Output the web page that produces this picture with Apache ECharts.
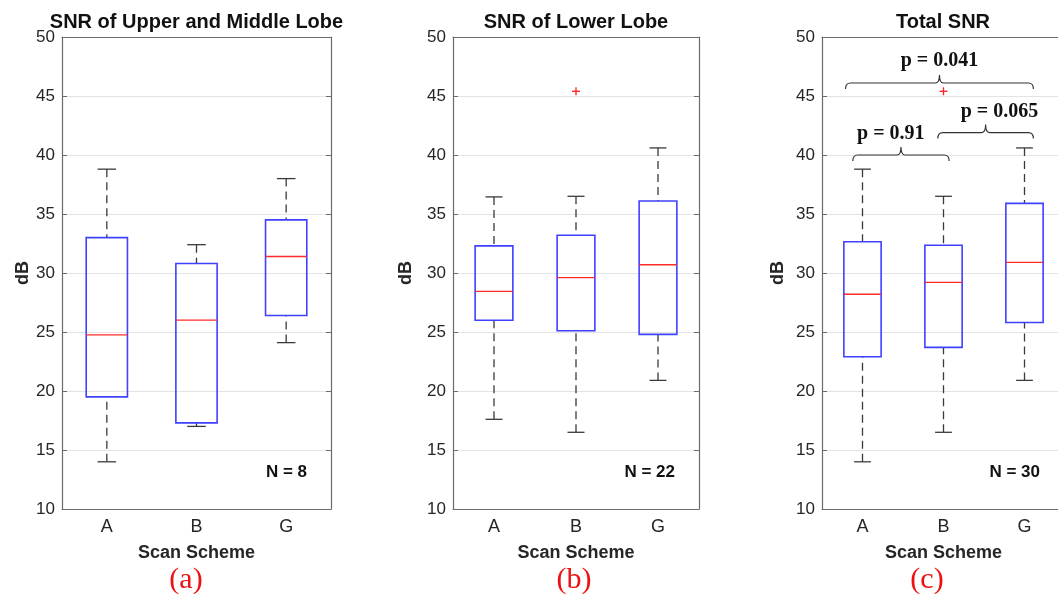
<!DOCTYPE html>
<html>
<head>
<meta charset="utf-8">
<script src="https://cdn.jsdelivr.net/npm/echarts@6/dist/echarts.min.js"></script>
<style>
html, body { margin: 0; background: #fff; }
#main { width: 1058px; height: 598px; }
</style>
</head>
<body>
<div id="main"></div>
<script>
// categories and box statistics: [min, Q1, median, Q3, max]
var categories = ['A', 'B', 'G'];
var yTicks = [10, 15, 20, 25, 30, 35, 40, 45, 50];
var upperMiddle = [[14.0, 19.5, 24.75, 33.0, 38.8], [17.0, 17.3, 26.0, 30.8, 32.4], [24.1, 26.4, 31.4, 34.5, 38.0]];
var lowerLobe = [[17.6, 26.0, 28.45, 32.3, 36.45], [16.5, 25.1, 29.6, 33.2, 36.5], [20.9, 24.8, 30.7, 36.1, 40.6]];
var totalSnr = [[14.0, 22.9, 28.2, 32.65, 38.8], [16.5, 23.7, 29.2, 32.35, 36.5], [20.9, 25.8, 30.9, 35.9, 40.6]];
var lowerOutliers = [[1, 45.4]];
var totalOutliers = [[1, 45.4]];
var panelTitles = ['SNR of Upper and Middle Lobe', 'SNR of Lower Lobe', 'Total SNR'];
var panelN = ['N = 8', 'N = 22', 'N = 30'];
var panelTags = ['(a)', '(b)', '(c)'];

// p-value brackets in panel c (x in category units, y in dB)
var pLabels = ['p = 0.041', 'p = 0.065', 'p = 0.91'];
var bracketFrom = [-0.21, 0.93, -0.12];
var bracketTo = [2.11, 2.11, 1.07];
var bracketLevel = [46.1, 41.9, 40.0];
var pLabelX = [0.95, 1.69, 0.35];
var pLabelY = [48.0, 43.65, 41.8];

var chart = echarts.init(document.getElementById('main'));

var axisColor = '#6b6b6b';
var grids = [
    {left: 62, width: 269, top: 37, height: 472, outerBoundsMode: 'none'},
    {left: 453, width: 246, top: 37, height: 472, outerBoundsMode: 'none'},
    {left: 822, width: 243, top: 37, height: 472, outerBoundsMode: 'none'}
];

function renderBox(params, api) {
    var x = api.value(0);
    var band = api.size([1, 0])[0];
    var w = band * 0.46, cap = w * 0.45;
    var pMin = api.coord([x, api.value(1)]);
    var pQ1 = api.coord([x, api.value(2)]);
    var pMed = api.coord([x, api.value(3)]);
    var pQ3 = api.coord([x, api.value(4)]);
    var pMax = api.coord([x, api.value(5)]);
    var cx = pMed[0];
    var dash = {stroke: '#3a3a3a', lineWidth: 1.3, lineDash: [8, 5]};
    var solid = {stroke: '#3a3a3a', lineWidth: 1.3};
    return {
        type: 'group',
        children: [
            {type: 'line', shape: {x1: cx, y1: pMax[1], x2: cx, y2: pQ3[1]}, style: dash},
            {type: 'line', shape: {x1: cx, y1: pMin[1], x2: cx, y2: pQ1[1]}, style: dash},
            {type: 'line', shape: {x1: cx - cap / 2, y1: pMax[1], x2: cx + cap / 2, y2: pMax[1]}, style: solid},
            {type: 'line', shape: {x1: cx - cap / 2, y1: pMin[1], x2: cx + cap / 2, y2: pMin[1]}, style: solid},
            {type: 'rect', shape: {x: cx - w / 2, y: pQ3[1], width: w, height: pQ1[1] - pQ3[1]},
                style: {fill: 'none', stroke: '#4040ff', lineWidth: 1.6}},
            {type: 'line', shape: {x1: cx - w / 2, y1: pMed[1], x2: cx + w / 2, y2: pMed[1]},
                style: {stroke: '#ff2b2b', lineWidth: 1.3}}
        ]
    };
}

function renderOutlier(params, api) {
    var p = api.coord([api.value(0), api.value(1)]);
    var s = 4;
    var st = {stroke: '#ff2020', lineWidth: 1.3};
    return {
        type: 'group',
        children: [
            {type: 'line', shape: {x1: p[0] - s, y1: p[1], x2: p[0] + s, y2: p[1]}, style: st},
            {type: 'line', shape: {x1: p[0], y1: p[1] - s, x2: p[0], y2: p[1] + s}, style: st}
        ]
    };
}

function renderBracket(params, api) {
    var i = params.dataIndex;
    var base = api.coord([0, bracketLevel[i]]);
    var band = api.size([1, 0])[0];
    var x1 = base[0] + bracketFrom[i] * band;
    var x2 = base[0] + bracketTo[i] * band;
    var xm = (x1 + x2) / 2, y = base[1];
    var lab = api.coord([0, pLabelY[i]]);
    var d = 'M' + x1 + ',' + (y + 6) + ' Q' + x1 + ',' + y + ' ' + (x1 + 5) + ',' + y +
        ' L' + (xm - 4) + ',' + y + ' Q' + xm + ',' + y + ' ' + xm + ',' + (y - 8) +
        ' Q' + xm + ',' + y + ' ' + (xm + 4) + ',' + y +
        ' L' + (x2 - 5) + ',' + y + ' Q' + x2 + ',' + y + ' ' + x2 + ',' + (y + 6);
    return {
        type: 'group',
        children: [
            {type: 'path', shape: {pathData: d}, style: {fill: 'none', stroke: '#333', lineWidth: 1.2}},
            {type: 'text', x: base[0] + pLabelX[i] * band, y: lab[1],
                style: {text: pLabels[i], font: 'bold 20px "Liberation Serif"', fill: '#111',
                    align: 'center', verticalAlign: 'middle'}}
        ]
    };
}

function toItems(stats) {
    return stats.map(function (v, i) { return [i].concat(v); });
}

var nameGaps = [30, 38, 35];
var xAxes = [], yAxes = [];
grids.forEach(function (g, k) {
    xAxes.push({
        type: 'category', gridIndex: k, data: categories, position: 'bottom',
        name: 'Scan Scheme', nameLocation: 'middle', nameGap: 35,
        nameTextStyle: {fontFamily: 'Liberation Sans', fontWeight: 'bold', fontSize: 18, color: '#262626'},
        axisLine: {lineStyle: {color: axisColor, width: 1.2}},
        axisTick: {inside: true, alignWithLabel: true, length: 5, lineStyle: {color: axisColor}},
        axisLabel: {fontFamily: 'Liberation Sans', fontSize: 18, color: '#262626', margin: 9},
        splitLine: {show: false}
    });
    xAxes.push({
        type: 'category', gridIndex: k, data: categories, position: 'top',
        axisLine: {lineStyle: {color: axisColor, width: 1.2}},
        axisTick: {inside: true, alignWithLabel: true, length: 5, lineStyle: {color: axisColor}},
        axisLabel: {show: false}, splitLine: {show: false}
    });
    yAxes.push({
        type: 'value', gridIndex: k, min: 10, max: 50, interval: 5, position: 'left',
        name: 'dB', nameLocation: 'middle', nameGap: nameGaps[k], nameRotate: 90,
        nameTextStyle: {fontFamily: 'Liberation Sans', fontWeight: 'bold', fontSize: 18, color: '#262626'},
        axisLine: {show: true, lineStyle: {color: axisColor, width: 1.2}},
        axisTick: {show: true, inside: true, length: 5, lineStyle: {color: axisColor}},
        axisLabel: {fontFamily: 'Liberation Sans', fontSize: 17, color: '#262626', margin: 7,
            formatter: function (v) { return yTicks.indexOf(v) >= 0 ? String(v) : ''; }},
        splitLine: {show: true, lineStyle: {color: '#e3e3e3', width: 1}}
    });
    yAxes.push({
        type: 'value', gridIndex: k, min: 10, max: 50, interval: 5, position: 'right',
        axisLine: {show: true, lineStyle: {color: axisColor, width: 1.2}},
        axisTick: {show: true, inside: true, length: 5, lineStyle: {color: axisColor}},
        axisLabel: {show: false}, splitLine: {show: false}
    });
});

var boxSets = [upperMiddle, lowerLobe, totalSnr];
var series = [];
boxSets.forEach(function (stats, k) {
    series.push({
        type: 'custom', xAxisIndex: k * 2, yAxisIndex: k * 2,
        renderItem: renderBox, encode: {x: 0, y: [1, 2, 3, 4, 5]},
        data: toItems(stats), z: 3
    });
});
series.push({type: 'custom', xAxisIndex: 2, yAxisIndex: 2, renderItem: renderOutlier,
    encode: {x: 0, y: 1}, data: lowerOutliers, z: 4});
series.push({type: 'custom', xAxisIndex: 4, yAxisIndex: 4, renderItem: renderOutlier,
    encode: {x: 0, y: 1}, data: totalOutliers, z: 4});
series.push({type: 'custom', xAxisIndex: 4, yAxisIndex: 4, renderItem: renderBracket,
    encode: {x: 0, y: 1}, clip: false,
    data: pLabels.map(function (t, i) { return [0, bracketLevel[i]]; }), z: 5});

// texts around the panels
var titleX = [196.5, 576, 943];
var nRight = [307, 675, 1040];
var tagX = [186, 574, 927];
var graphics = [];
for (var k = 0; k < 3; k++) {
    graphics.push({type: 'text', x: titleX[k], y: 22,
        style: {text: panelTitles[k], font: 'bold 20px "Liberation Sans"', fill: '#111',
            align: 'center', verticalAlign: 'middle'}});
    graphics.push({type: 'text', x: nRight[k], y: 472,
        style: {text: panelN[k], font: 'bold 17px "Liberation Sans"', fill: '#111',
            align: 'right', verticalAlign: 'middle'}});
    graphics.push({type: 'text', x: tagX[k], y: 580,
        style: {text: panelTags[k], font: '30px "Liberation Serif"', fill: '#ee1111',
            align: 'center', verticalAlign: 'middle'}});
}

chart.setOption({
    backgroundColor: '#fff',
    animation: false,
    grid: grids,
    xAxis: xAxes,
    yAxis: yAxes,
    series: series,
    graphic: graphics
});
</script>
</body>
</html>
